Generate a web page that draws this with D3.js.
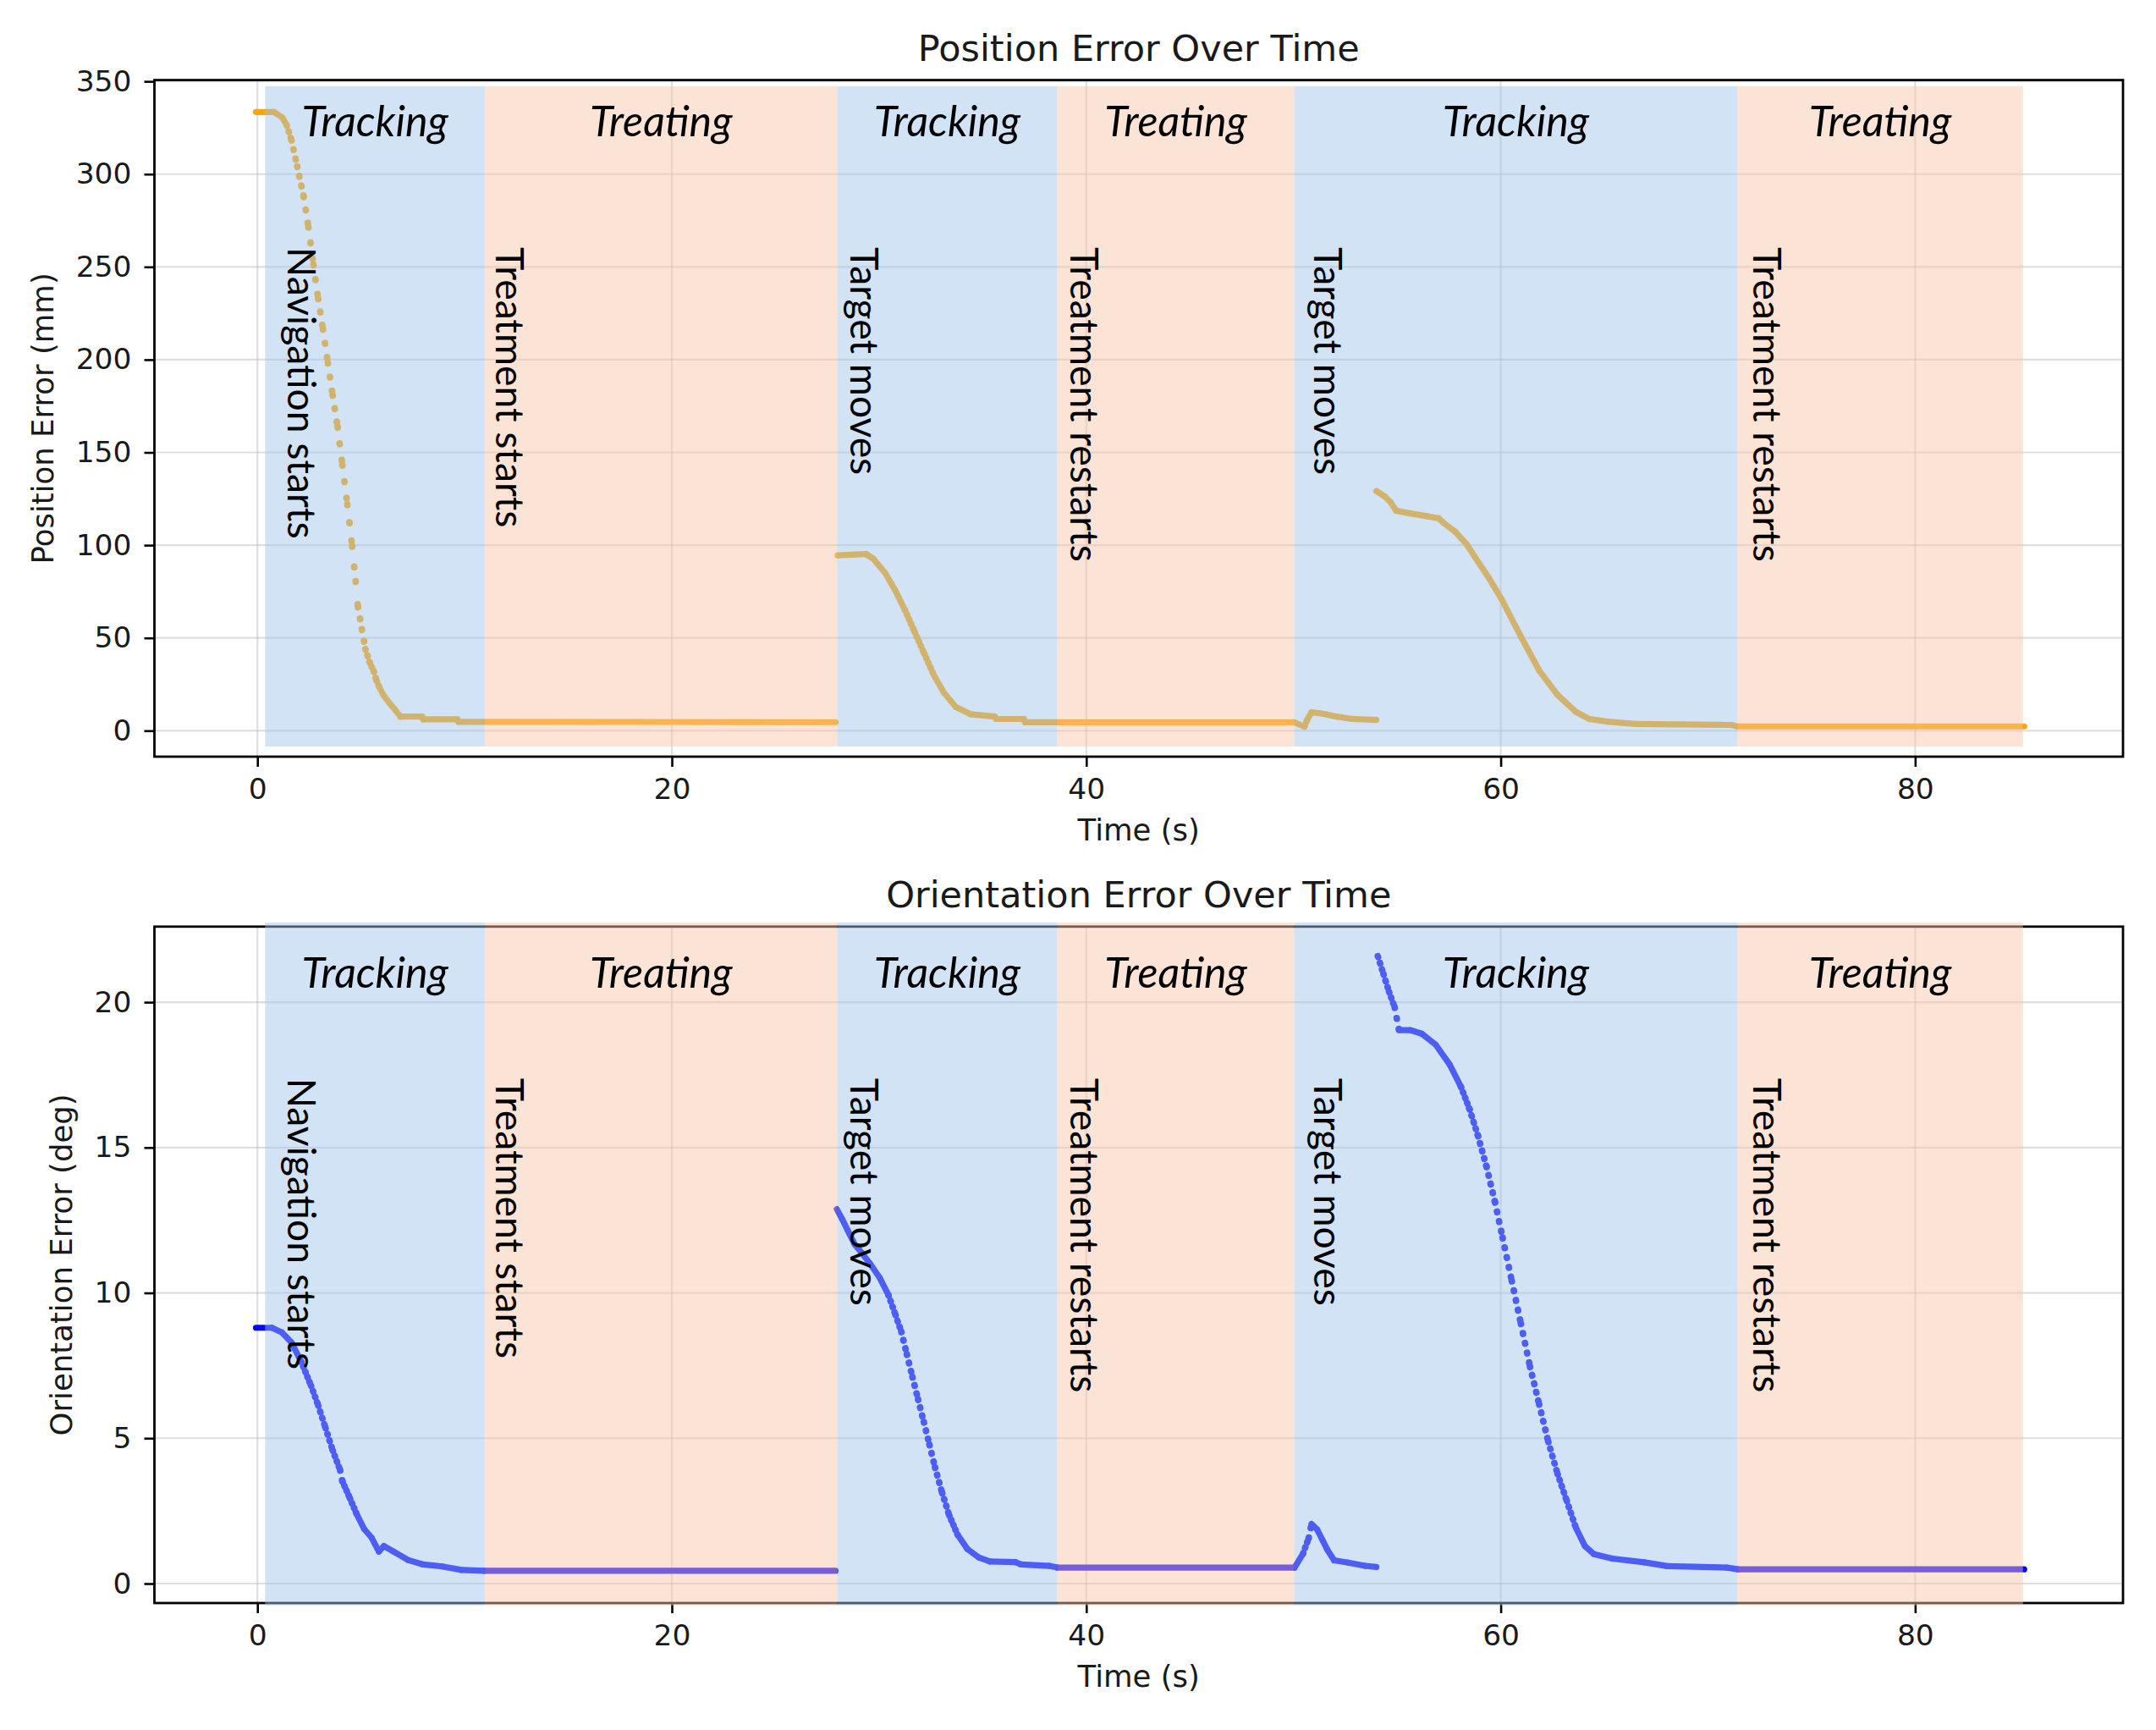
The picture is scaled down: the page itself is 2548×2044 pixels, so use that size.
<!DOCTYPE html>
<html><head><meta charset="utf-8">
<script src="https://cdn.jsdelivr.net/npm/d3@7"></script>
<style>
html,body{margin:0;padding:0;background:#fff;}
svg{display:block;}
</style></head><body>
<svg id="chart" width="2548" height="2044"></svg>
<script>
// ---------------- data ----------------
const phaseNames  = ["Tracking","Treating","Tracking","Treating","Tracking","Treating"];
const phaseBounds = [0.37, 10.98, 27.98, 38.60, 50.04, 71.42, 85.20];
const eventNames  = ["Navigation starts","Treatment starts","Target moves","Treatment restarts","Target moves","Treatment restarts"];
const eventTimes  = [1.48, 11.49, 28.62, 39.23, 50.99, 72.18];
const xTicks   = [0, 20, 40, 60, 80];
const posTicks = [0, 50, 100, 150, 200, 250, 300, 350];
const oriTicks = [0, 5, 10, 15, 20];

// position error (mm); null marks a break between recordings
const posTime = [
  -0.07, 0.80, 1.20, 1.41, 1.64, 1.92, 2.23, 2.46, 2.70, 2.93, 3.16, 3.40, 3.63, 3.87, 4.10, 4.34,
  4.57, 4.74, 4.85, 5.04, 5.21, 5.41, 5.61, 5.75, 5.88, 6.09, 6.36, 6.64, 6.90, 7.95, 8.00, 9.65, 9.70, 27.90,
  27.95,
  28.00, 29.37, 29.72, 30.31, 30.78, 31.24, 31.71, 32.18, 32.65, 33.12, 33.70, 34.41, 35.58, 35.65, 36.99,
  37.05, 50.02, 50.53, 50.67, 50.87, 51.28, 51.62, 52.09, 52.78, 54.00,
  54.00,
  54.00, 54.41, 54.68, 54.95, 55.63, 56.45, 57.00, 57.27, 57.81, 58.36, 58.90, 59.44, 60.04, 60.97, 61.86,
  62.74, 63.62, 64.28, 65.17, 66.49, 71.13, 71.42, 85.26
];
const posValue = [
  333.5, 333.5, 330.5, 326.5, 318.5, 304.2, 288.0, 271.6, 251.3, 233.0, 216.6, 198.3, 181.0, 163.7, 143.3, 122.0,
  99.6, 80.6, 66.9, 54.7, 44.0, 37.0, 32.0, 27.0, 23.5, 19.0, 15.0, 11.4, 7.6, 7.6, 6.1, 6.1, 4.8, 4.6,
  null,
  94.5, 95.2, 92.7, 84.8, 75.6, 65.2, 53.4, 41.6, 29.8, 20.7, 12.8, 8.9, 7.6, 6.3, 6.3,
  4.5, 4.5, 2.3, 6.1, 9.9, 9.4, 8.7, 7.6, 6.4, 5.8,
  null,
  129.2, 126.2, 123.2, 118.6, 117.1, 115.6, 114.5, 111.8, 107.2, 100.4, 91.2, 82.1, 70.9, 50.8, 32.4,
  19.3, 10.2, 6.3, 4.9, 3.6, 3.1, 2.3, 2.3
];

// orientation error (deg); null marks a break
const oriTime = [
  -0.07, 0.70, 1.18, 1.64, 2.11, 2.58, 2.93, 3.28, 3.63, 3.99, 4.10, 4.46, 4.81, 5.16, 5.51, 5.86,
  6.10, 6.57, 7.27, 7.97, 8.91, 9.85, 10.95, 27.90,
  27.93,
  27.96, 28.21, 28.48, 28.82, 29.16, 29.57, 30.04, 30.45, 30.79, 31.07, 31.34, 31.61, 31.88, 32.16, 32.43,
  32.70, 33.04, 33.38, 33.79, 34.26, 34.81, 35.35, 36.58, 36.85, 38.21, 38.60, 50.05, 50.46, 50.73, 50.87,
  51.14, 51.41, 51.62, 51.96, 52.64, 53.45, 54.00,
  54.03,
  54.07, 54.34, 54.61, 54.88, 55.09, 55.63, 56.18, 56.86, 57.54, 58.08, 58.49, 58.90, 59.31, 59.72, 60.09,
  60.53, 60.97, 61.41, 61.85, 62.29, 62.74, 63.18, 63.62, 64.06, 64.50, 65.39, 66.93, 68.04, 70.91, 71.46, 85.26
];
const oriValue = [
  8.80, 8.80, 8.64, 8.30, 7.64, 6.82, 6.14, 5.37, 4.59, 3.91, 3.52, 2.94, 2.36, 1.87, 1.58, 1.10,
  1.29, 1.10, 0.81, 0.66, 0.59, 0.47, 0.44, 0.44,
  null,
  12.88, 12.55, 12.16, 11.67, 11.38, 11.00, 10.51, 9.93, 9.25, 8.67, 7.89, 7.11, 6.34, 5.56, 4.78,
  4.00, 3.13, 2.36, 1.68, 1.19, 0.90, 0.76, 0.74, 0.66, 0.61, 0.55, 0.55, 1.03, 1.56, 2.05,
  1.86, 1.48, 1.18, 0.80, 0.72, 0.61, 0.57,
  null,
  21.58, 20.97, 20.36, 19.83, 19.04, 19.04, 18.92, 18.54, 17.85, 17.09, 16.33, 15.41, 14.35, 13.13, 11.90,
  10.42, 8.95, 7.47, 6.18, 4.89, 3.78, 2.86, 1.93, 1.29, 1.01, 0.86, 0.73, 0.60, 0.55, 0.49, 0.49
];

// ---------------- layout ----------------
const svg = d3.select("#chart");
const AX_L = 182.5, AX_R = 2509;
const xDomain = [-4.97, 90.03];
const SAMPLE_DT = 0.1;           // nominal sensor period (s) -> dot spacing
const DOT = 7.2;
const TICK_FONT = "DejaVu Sans";
const SHADE = ["rgb(160,196,234)", "rgb(247,196,168)"];
const SHADE_OP = 0.47;

const panels = [
  {top: 94.6, bottom: 894, yDomain: [-14.0, 350.7], shade: [-8.5, 347.4], ticks: posTicks,
   T: posTime, V: posValue, color: "#ffa500", title: "Position Error Over Time",
   ylabel: "Position Error (mm)", phaseY: 320.5, eventY: 260.6},
  {top: 1094.8, bottom: 1894, yDomain: [-0.67, 22.60], shade: [-0.75, 22.74], ticks: oriTicks,
   T: oriTime, V: oriValue, color: "#0505ff", title: "Orientation Error Over Time",
   ylabel: "Orientation Error (deg)", phaseY: 20.49, eventY: 17.39}
];

const x = d3.scaleLinear().domain(xDomain).range([AX_L, AX_R]);

panels.forEach(p => {
  const y = d3.scaleLinear().domain(p.yDomain).range([p.bottom, p.top]);
  const g = svg.append("g");

  // grid
  const grid = g.append("g").attr("stroke", "#b0b0b0").attr("stroke-opacity", 0.4).attr("stroke-width", 2.2);
  xTicks.forEach(t => grid.append("line").attr("x1", x(t)).attr("x2", x(t)).attr("y1", p.top).attr("y2", p.bottom));
  p.ticks.forEach(t => grid.append("line").attr("x1", AX_L).attr("x2", AX_R).attr("y1", y(t)).attr("y2", y(t)));

  // data: each pair of consecutive readings; dotted when samples are spread apart
  const pts = p.T.map((t, i) => ({t, v: p.V[i]}));
  const seg = d3.line().x(d => x(d.t)).y(d => y(d.v));
  const marks = g.append("g").attr("fill", "none").attr("stroke", p.color)
    .attr("stroke-width", DOT).attr("stroke-linecap", "round");
  for (let i = 0; i < pts.length - 1; i++) {
    const a = pts[i], b = pts[i + 1];
    if (a.v == null || b.v == null) continue;
    const arc = Math.hypot(x(b.t) - x(a.t), y(b.v) - y(a.v));
    const n = Math.max(1, (b.t - a.t) / SAMPLE_DT);
    const sp = arc / n;
    const path = marks.append("path").attr("d", seg([a, b]));
    if (sp > 6) path.attr("stroke-dasharray", `0.8 ${(sp - 0.8).toFixed(2)}`).attr("stroke-width", DOT + 0.6);
  }

  // axes
  const xAxis = d3.axisBottom(x).tickValues(xTicks).tickSize(12).tickPadding(14).tickFormat(d3.format("d"));
  const yAxis = d3.axisLeft(y).tickValues(p.ticks).tickSize(12).tickPadding(15).tickFormat(d3.format("d"));
  const gx = g.append("g").attr("transform", `translate(0,${p.bottom})`).call(xAxis);
  const gy = g.append("g").attr("transform", `translate(${AX_L},0)`).call(yAxis);
  [gx, gy].forEach(ax => {
    ax.select(".domain").remove();
    ax.selectAll(".tick line").attr("stroke", "#000").attr("stroke-width", 2.6);
    ax.selectAll(".tick text").attr("fill", "#1a1a1a").style("font-family", TICK_FONT).style("font-size", "34.5px");
  });
  g.append("rect").attr("x", AX_L).attr("y", p.top).attr("width", AX_R - AX_L).attr("height", p.bottom - p.top)
    .attr("fill", "none").attr("stroke", "#000").attr("stroke-width", 2.8);

  // phase shading (drawn above marks and frame)
  const sh = g.append("g");
  phaseNames.forEach((name, i) => {
    sh.append("rect")
      .attr("x", x(phaseBounds[i])).attr("width", x(phaseBounds[i + 1]) - x(phaseBounds[i]))
      .attr("y", y(p.shade[1])).attr("height", y(p.shade[0]) - y(p.shade[1]))
      .attr("fill", SHADE[i % 2]).attr("fill-opacity", SHADE_OP);
  });

  // phase labels
  phaseNames.forEach((name, i) => {
    g.append("text").attr("class", "phase")
      .attr("x", x((phaseBounds[i] + phaseBounds[i + 1]) / 2)).attr("y", y(p.phaseY))
      .attr("text-anchor", "middle")
      .style("font-family", "Lato").style("font-style", "italic").style("font-weight", 400)
      .style("font-size", "46px").attr("fill", "#000").text(name);
  });

  // event labels, rotated
  eventNames.forEach((name, i) => {
    g.append("text").attr("class", "event")
      .attr("transform", `translate(${x(eventTimes[i])},${y(p.eventY)}) rotate(90)`)
      .attr("text-anchor", "start")
      .style("font-family", "Lato").style("font-size", "44px").attr("fill", "#000").text(name);
  });

  // titles and labels
  g.append("text").attr("class", "title").attr("x", (AX_L + AX_R) / 2).attr("y", p.top - 23)
    .attr("text-anchor", "middle").style("font-family", TICK_FONT).style("font-size", "43px")
    .attr("fill", "#1a1a1a").text(p.title);
  g.append("text").attr("class", "xlabel").attr("x", (AX_L + AX_R) / 2).attr("y", p.bottom + 99)
    .attr("text-anchor", "middle").style("font-family", TICK_FONT).style("font-size", "35.5px")
    .attr("fill", "#1a1a1a").text("Time (s)");
  const minX = d3.min(gy.selectAll(".tick text").nodes(), n => n.getBBox().x) + AX_L;
  g.append("text").attr("class", "ylabel")
    .attr("transform", `translate(${minX - 27},${(p.top + p.bottom) / 2}) rotate(-90)`)
    .attr("text-anchor", "middle").style("font-family", TICK_FONT).style("font-size", "35.5px")
    .attr("fill", "#1a1a1a").text(p.ylabel);
});

// fit label font sizes to the widths measured on the reference
function fit(sel, targets) {
  const nodes = svg.selectAll(sel).nodes();
  const ratios = nodes.map((n, i) => targets[i % targets.length] / n.getComputedTextLength());
  const r = d3.mean(ratios);
  nodes.forEach(n => {
    const fs = parseFloat(n.style.fontSize);
    n.style.fontSize = (fs * r).toFixed(2) + "px";
  });
}
fit("text.phase", [173, 169, 173, 169, 173, 169]);
fit("text.event", [342, 328, 275, 367, 275, 367]);
</script>
</body></html>
